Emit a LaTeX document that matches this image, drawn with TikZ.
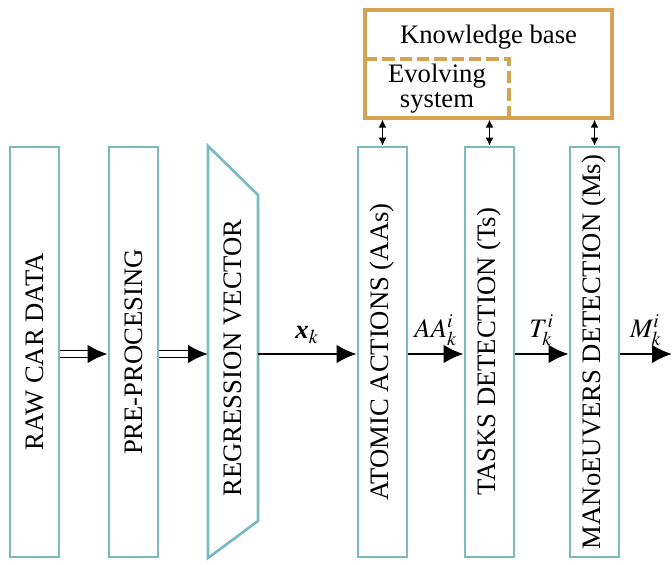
\documentclass[tikz,border=0pt]{standalone}
\usepackage{amsmath}
\usepackage{mathptmx}
\usepackage{fontspec}
\setmainfont{Liberation Serif}
\usetikzlibrary{arrows.meta,calc}
\definecolor{boxcyan}{RGB}{122,186,194}
\definecolor{kborange}{RGB}{212,163,84}
\tikzset{
  procbox/.style={draw=boxcyan, line width=1pt, rotate=90, minimum width=153.75pt, minimum height=18.4pt, inner sep=0pt, font=\fontsize{10}{12}\selectfont},
  flow/.style={line width=0.9pt, -{Latex[length=7.5pt,width=7pt]}},
  dblflow/.style={line width=0.55pt, double distance=1.9pt},
  kbarrow/.style={line width=0.55pt, {Latex[length=3pt,width=3pt]}-{Latex[length=3pt,width=3pt]}},
  lbl/.style={font=\fontsize{10}{12}\selectfont, inner sep=0.5pt}
}
\begin{document}
\begin{tikzpicture}[x=0.375pt, y=-0.375pt]
\useasboundingbox (0,0) rectangle (672,565);
\coordinate (ay) at (0,354);
% boxes
\node[procbox] (raw) at (34.5,352) {RAW CAR DATA};
\node[procbox] (pre) at (133.5,352) {PRE-PROCESING};
\draw[draw=boxcyan, line width=1pt, line join=miter] (208,146) -- (258,195) -- (258,521) -- (208,558) -- cycle;
\node[rotate=90, font=\fontsize{10}{12}\selectfont] (reg) at (233,358) {REGRESSION VECTOR};
\coordinate (regW) at (208,354);
\coordinate (regE) at (258,354);
\node[procbox] (aa) at (382.5,352) {ATOMIC ACTIONS (AAs)};
\node[procbox] (ts) at (489.5,352) {TASKS DETECTION (Ts)};
\node[procbox] (ms) at (594.5,352) {MANoEUVERS DETECTION (Ms)};
\coordinate (endM) at (672,354);
% knowledge base
\node[draw=kborange, line width=1.2pt, minimum width=92.6pt, minimum height=40.5pt, inner sep=0pt] (kb) at (488.5,64) {};
\node[lbl] (kbt) at (488.5,37) {Knowledge base};
\draw[draw=kborange, line width=1.2pt, dash pattern=on 4.6pt off 1.9pt] (365,59) -- (509,59) -- (509,118);
\node[lbl, align=center, font=\fontsize{10}{9.4}\selectfont] (evo) at (437,89) {Evolving\\system};
% knowledge arrows
\draw[kbarrow] (aa.east) -- (aa.east |- kb.south);
\draw[kbarrow] (ts.east) -- (ts.east |- kb.south);
\draw[kbarrow] (ms.east) -- (ms.east |- kb.south);
% double arrows
\draw[dblflow] (raw.south |- ay) -- ++(36,0);
\draw[line width=0.9pt, -{Latex[length=7.5pt,width=7pt]}] ($(raw.south |- ay)+(30,0)$) -- (pre.north |- ay);
\draw[dblflow] (pre.south |- ay) -- ++(36,0);
\draw[line width=0.9pt, -{Latex[length=7.5pt,width=7pt]}] ($(pre.south |- ay)+(30,0)$) -- (regW);
% flow arrows
\draw[flow] (regE) -- node[lbl, above=3pt] {$\textbf{\textit{x}}_k$} (aa.north |- ay);
\draw[flow] (aa.south |- ay) -- node[lbl, above=2pt] {$AA_k^i$} (ts.north |- ay);
\draw[flow] (ts.south |- ay) -- node[lbl, above=2pt] {$T_k^i$} (ms.north |- ay);
\draw[flow] (ms.south |- ay) -- node[lbl, above=2pt] {$M_k^i$} (endM);
\end{tikzpicture}
\end{document}
